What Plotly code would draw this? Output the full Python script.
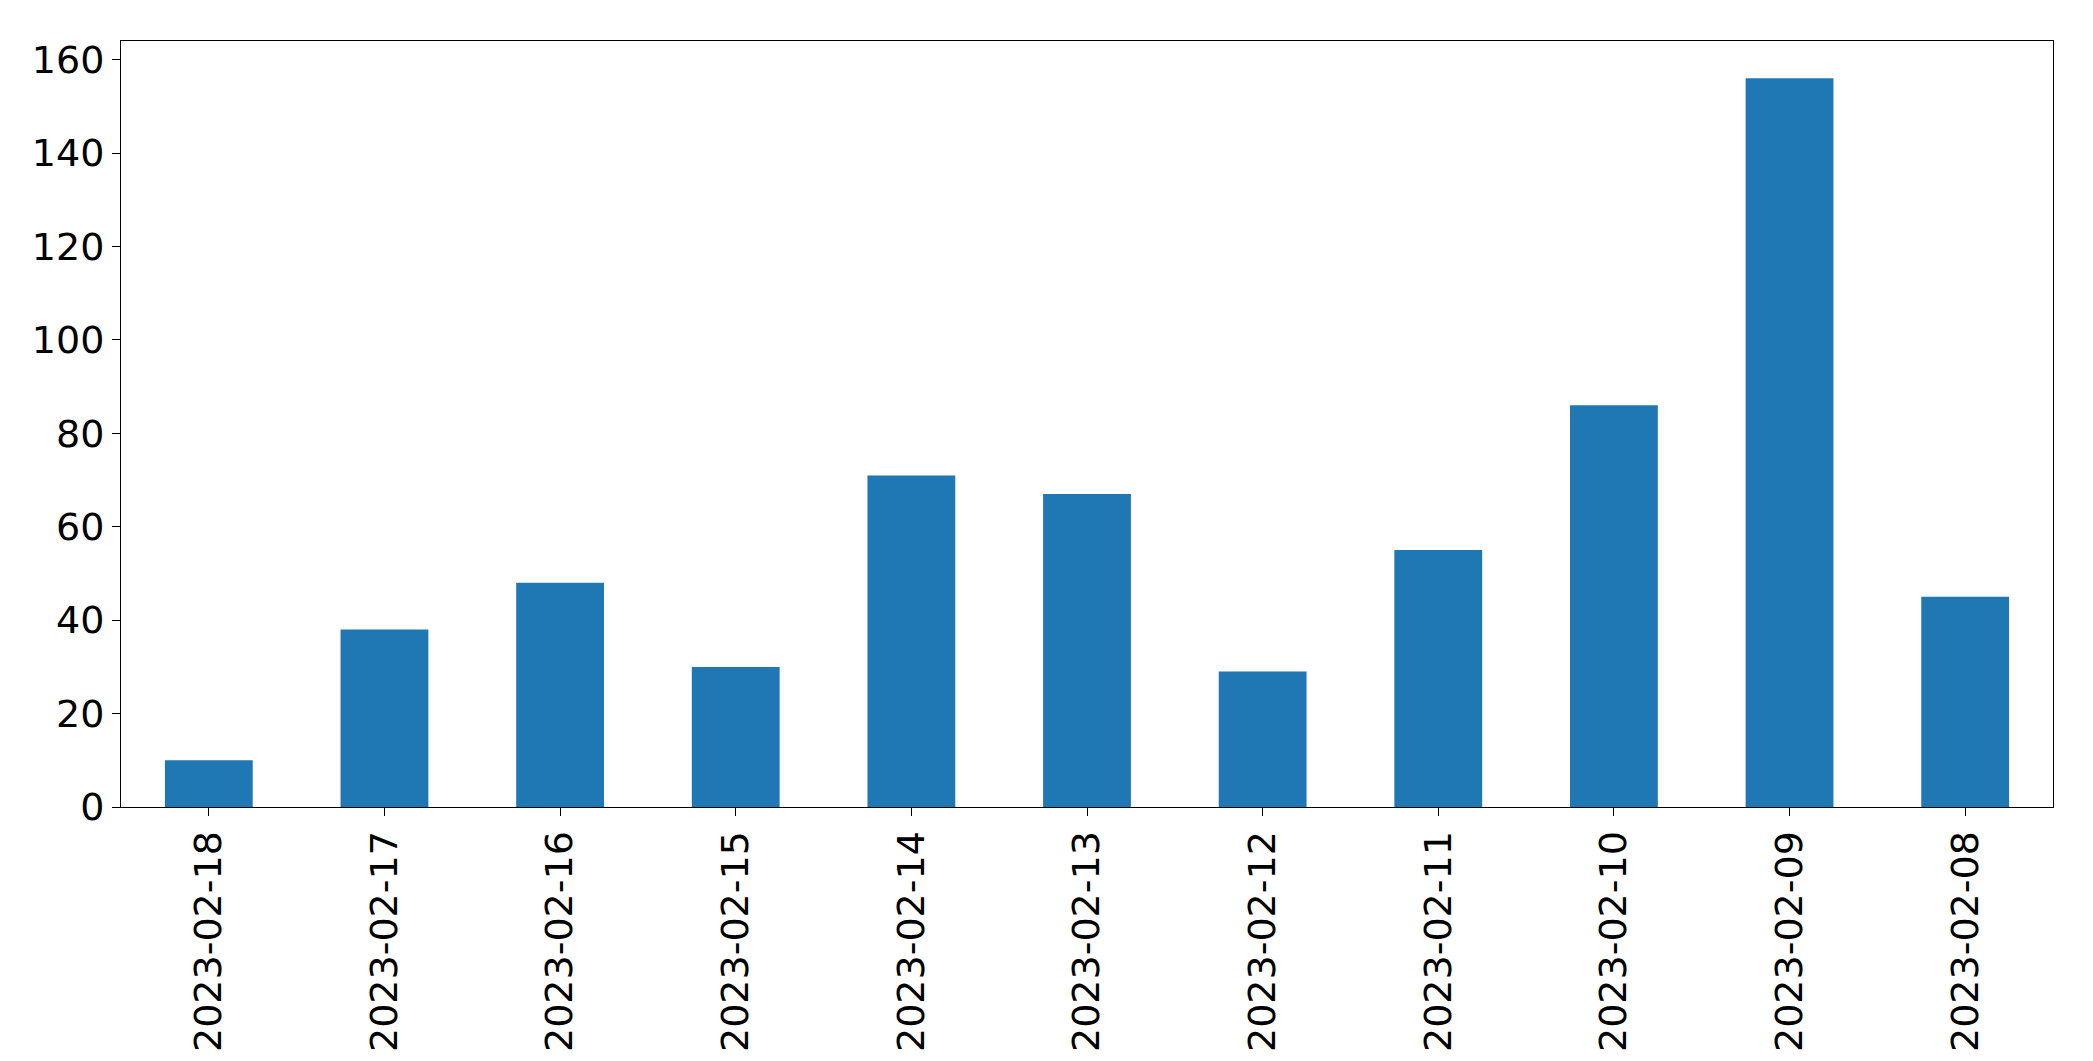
import plotly.graph_objects as go

dates = ['2023-02-18', '2023-02-17', '2023-02-16', '2023-02-15', '2023-02-14',
         '2023-02-13', '2023-02-12', '2023-02-11', '2023-02-10', '2023-02-09',
         '2023-02-08']
counts = [10, 38, 48, 30, 71, 67, 29, 55, 86, 156, 45]

fig = go.Figure(go.Bar(x=dates, y=counts, width=0.5, marker_color='#1f77b4',
                       marker_line_width=0))

axis_style = dict(showline=True, linecolor='black', linewidth=1, mirror=True,
                  showgrid=False, zeroline=False, ticks='outside',
                  ticklen=8, tickcolor='black')
fig.update_xaxes(type='category', range=[-0.5, 10.5], tickangle=-90, **axis_style)
fig.update_yaxes(range=[0, 164], dtick=20, **axis_style)
fig.update_layout(
    width=2093, height=1061, plot_bgcolor='white', paper_bgcolor='white',
    font=dict(family='DejaVu Sans', size=38, color='black'),
    margin=dict(l=113, r=48, t=33, b=262), showlegend=False,
)
fig.write_html('out.html')
